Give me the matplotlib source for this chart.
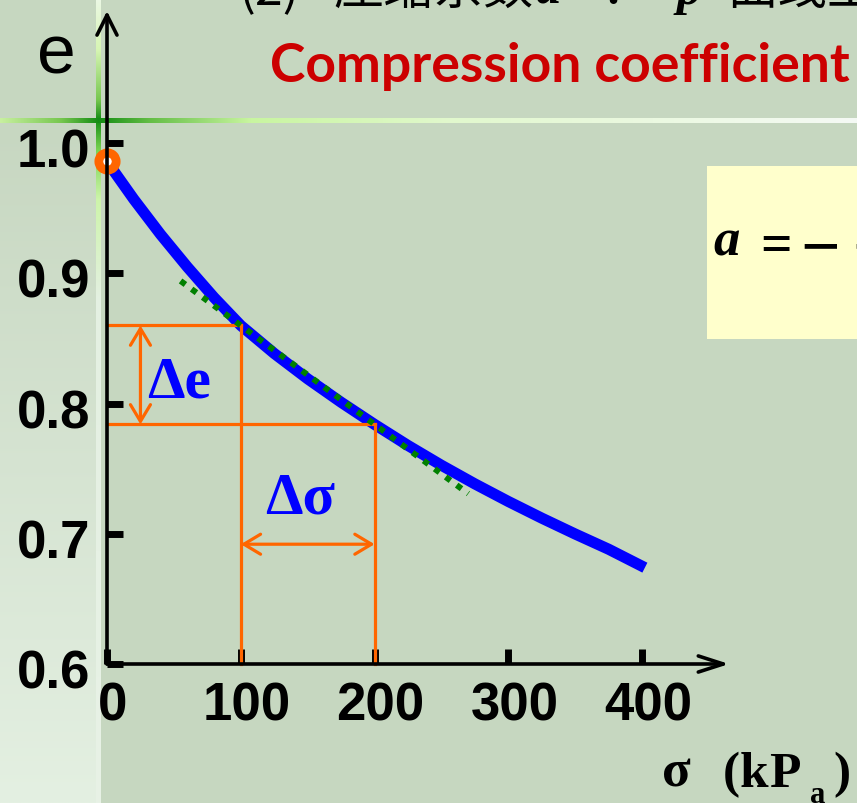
import matplotlib
matplotlib.use("Agg")
import numpy as np
import matplotlib.pyplot as plt
from matplotlib.patches import Rectangle
from matplotlib.transforms import ScaledTranslation

# e - sigma compression curve (void ratio against vertical stress, kPa)
sigma = [0, 20, 40, 60, 80, 100, 125, 150, 175, 200, 225, 250, 275, 300, 325, 350, 375, 402]
void_ratio = [0.986, 0.957, 0.930, 0.905, 0.8815, 0.860, 0.8385, 0.819, 0.801, 0.784,
              0.7678, 0.7526, 0.7383, 0.7248, 0.712, 0.6998, 0.6881, 0.674]

# two stress states and their void ratios used for the secant
sigma_pair = [100, 200]
e_pair = [0.860, 0.784]
secant_sigma = [55, 270]

x_ticks = [0, 100, 200, 300, 400]
x_tick_labels = ["0", "100", "200", "300", "400"]
y_ticks = [0.6, 0.7, 0.8, 0.9, 1.0]
y_tick_labels = ["0.6", "0.7", "0.8", "0.9", "1.0"]

# positions of the dimension arrows
delta_e_sigma = 25
delta_sigma_e = 0.692
sigma_axis_end = 465
e_axis_end = 1.1015

W, H, DPI = 857, 804, 100
BG = "#C6D7C0"
ORANGE = "#FF6600"
BLUE = "#0000FF"
GREEN = "#008000"

fig = plt.figure(figsize=(W / DPI, H / DPI), dpi=DPI)
fig.patch.set_facecolor(BG)

# ---- slide decoration layer, in pixel units ----
deco = fig.add_axes([0, 0, 1, 1], zorder=0)
deco.axis("off")


def _ramp(coords, stops):
    pos = [s[0] for s in stops]
    cols = np.array([s[1] for s in stops], dtype=float) / 255.0
    return np.stack([np.interp(coords, pos, cols[:, k]) for k in range(3)], axis=-1)


def vgrad(x0, x1, y0, y1, stops):
    ys = np.linspace(y0, y1, 600)
    img = _ramp(ys, stops)[:, None, :]
    deco.imshow(img, extent=(x0, x1, y1, y0), aspect="auto", interpolation="bilinear", zorder=1)


def hgrad(x0, x1, y0, y1, stops):
    xs = np.linspace(x0, x1, 900)
    img = _ramp(xs, stops)[None, :, :]
    deco.imshow(img, extent=(x0, x1, y1, y0), aspect="auto", interpolation="bilinear", zorder=2)


# lighter band down the left edge
vgrad(0, 96, 124, H, [(124, (199, 215, 193)), (H, (228, 240, 226))])
# thin vertical accent line
vgrad(96, 101, 0, H, [(0, (235, 248, 228)), (50, (215, 245, 180)), (100, (120, 200, 80)),
                      (120, (20, 140, 20)), (150, (120, 210, 80)), (200, (205, 245, 170)),
                      (300, (228, 240, 226)), (H, (232, 242, 230))])
# thin horizontal accent line
hgrad(0, W, 119, 124, [(0, (200, 240, 160)), (60, (120, 200, 80)), (98, (20, 140, 20)),
                       (150, (100, 190, 70)), (250, (200, 245, 160)), (450, (225, 248, 205)),
                       (W, (245, 250, 245))])
# formula box
deco.add_patch(Rectangle((707, 167), 170, 173, facecolor="#FFFFCC", edgecolor="none", zorder=3))
deco.set_xlim(0, W)
deco.set_ylim(H, 0)

# ---- chart axes ----
X0, XS = 107.0, 1.338     # pixel of sigma = 0, pixels per kPa
Y0, YS = 665.0, 1302.0    # pixel of e = 0.6, pixels per unit e
ax = fig.add_axes([0, 0, 1, 1], zorder=2)
ax.patch.set_alpha(0)
ax.set_xlim(-X0 / XS, (W - X0) / XS)
ax.set_ylim(0.6 - (H - Y0) / YS, 0.6 + Y0 / YS)

for sp in ax.spines.values():
    sp.set_visible(False)
ax.spines["left"].set_position(("data", 0))
ax.spines["bottom"].set_position(("data", 0.6))
ax.xaxis.set_ticks_position("bottom")
ax.yaxis.set_ticks_position("left")
ax.set_xticks(x_ticks, x_tick_labels)
ax.set_yticks(y_ticks, y_tick_labels)
ax.tick_params(axis="x", direction="in", length=10.5, width=5, pad=12, labelsize=38, colors="black")
ax.tick_params(axis="y", direction="in", length=11.5, width=5, pad=12, labelsize=38, colors="black")
for lab in ax.get_xticklabels():
    lab.set_fontfamily("Liberation Sans")
    lab.set_fontweight("bold")
    lab.set_transform(lab.get_transform() + ScaledTranslation(6 / DPI, 0, fig.dpi_scale_trans))
for lab in ax.get_yticklabels():
    lab.set_fontfamily("Liberation Sans")
    lab.set_fontweight("bold")
    lab.set_transform(lab.get_transform() + ScaledTranslation(0, -4 / DPI, fig.dpi_scale_trans))

# axis lines with arrow heads
ax.annotate("", xy=(0, e_axis_end), xytext=(0, 0.6),
            arrowprops=dict(arrowstyle="->,head_length=0.72,head_width=0.36", lw=2.6,
                            color="black", shrinkA=0, shrinkB=0, mutation_scale=20), zorder=7)
ax.annotate("", xy=(sigma_axis_end, 0.6), xytext=(0, 0.6),
            arrowprops=dict(arrowstyle="->,head_length=0.9,head_width=0.29", lw=2.6,
                            color="black", shrinkA=0, shrinkB=0, mutation_scale=20), zorder=7)

# compression curve
ax.plot(sigma, void_ratio, color=BLUE, lw=8, solid_capstyle="butt", solid_joinstyle="round", zorder=3)

# guide lines from the two stress states
for s, e in zip(sigma_pair, e_pair):
    ax.plot([0, s], [e, e], color=ORANGE, lw=2.3, zorder=4)
    ax.plot([s, s], [e, 0.6], color=ORANGE, lw=2.3, zorder=4)

# dimension arrows
ax.annotate("", xy=(delta_e_sigma, e_pair[1]), xytext=(delta_e_sigma, e_pair[0]),
            arrowprops=dict(arrowstyle="<->,head_length=0.6,head_width=0.36", lw=2.3,
                            color=ORANGE, shrinkA=0, shrinkB=0, mutation_scale=20), zorder=4)
ax.annotate("", xy=(sigma_pair[1], delta_sigma_e), xytext=(sigma_pair[0], delta_sigma_e),
            arrowprops=dict(arrowstyle="<->,head_length=0.6,head_width=0.36", lw=2.3,
                            color=ORANGE, shrinkA=0, shrinkB=0, mutation_scale=20), zorder=4)

# secant through the two states
slope = (e_pair[1] - e_pair[0]) / (sigma_pair[1] - sigma_pair[0])
secant_e = [e_pair[0] + slope * (s - sigma_pair[0]) for s in secant_sigma]
ax.plot(secant_sigma, secant_e, color=GREEN, lw=4.3, linestyle=(0, (1, 1.3)),
        dash_capstyle="butt", zorder=5)

# initial state marker
ax.plot([sigma[0]], [void_ratio[0]], "o", ms=12.5, mew=6.3, mec=ORANGE, mfc="white", zorder=6)


# ---- text ----
def fpx(x, y):
    return x / W, 1 - y / H


serif_b = dict(family="Liberation Serif", weight="bold")

fig.text(*fpx(56, 73), "e", fontsize=50, family="Liberation Sans", ha="center", va="baseline")
fig.text(*fpx(270, 82), "Compression coefficient", fontsize=38.5, family="Lato", weight="bold",
         color="#CC0000", ha="left", va="baseline")

# heading line running off the top edge
cjk = ["Noto Sans CJK SC", "DejaVu Sans"]
fig.text(*fpx(238, 4), "(2)", fontsize=36, family=cjk, ha="left", va="baseline")
fig.text(*fpx(333, 4), "压缩系数", fontsize=36, family=cjk, ha="left", va="baseline")
fig.text(*fpx(535, 4), "a", fontsize=36, family="Liberation Serif", weight="bold", style="italic",
         ha="left", va="baseline")
fig.text(*fpx(600, 4), "：", fontsize=36, family=cjk, ha="left", va="baseline")
fig.text(*fpx(677, 4), "p", fontsize=36, family="Liberation Serif", weight="bold", style="italic",
         ha="left", va="baseline")
fig.text(*fpx(727, 4), "曲线上", fontsize=36, family=cjk, ha="left", va="baseline")

# formula box contents
fig.text(*fpx(713, 256), "a", fontsize=38, family="Liberation Serif", weight="bold", style="italic",
         ha="left", va="baseline")
fig.text(*fpx(776, 262), "=", fontsize=40, ha="center", va="baseline", **serif_b)
fig.text(*fpx(820, 268), "−", fontsize=50, ha="center", va="baseline", **serif_b)
fig.text(*fpx(852, 268), "−", fontsize=50, ha="left", va="baseline", **serif_b)

# dimension labels
fig.text(*fpx(147, 398), "Δe", fontsize=43, color=BLUE, ha="left", va="baseline", **serif_b)
fig.text(*fpx(265, 513), "Δσ", fontsize=43, color=BLUE, ha="left", va="baseline", **serif_b)

# horizontal axis title
fig.text(*fpx(662, 787), "σ", fontsize=38, ha="left", va="baseline", **serif_b)
fig.text(*fpx(723, 787), "(", fontsize=37, ha="left", va="baseline", **serif_b)
fig.text(*fpx(740, 787), "k", fontsize=37, ha="left", va="baseline", **serif_b)
fig.text(*fpx(769, 787), "P", fontsize=37, ha="left", va="baseline", **serif_b)
fig.text(*fpx(810, 803), "a", fontsize=22, ha="left", va="baseline", **serif_b)
fig.text(*fpx(833, 787), ")", fontsize=37, ha="left", va="baseline", **serif_b)

fig.savefig("out.png", dpi=DPI, facecolor=fig.get_facecolor())
